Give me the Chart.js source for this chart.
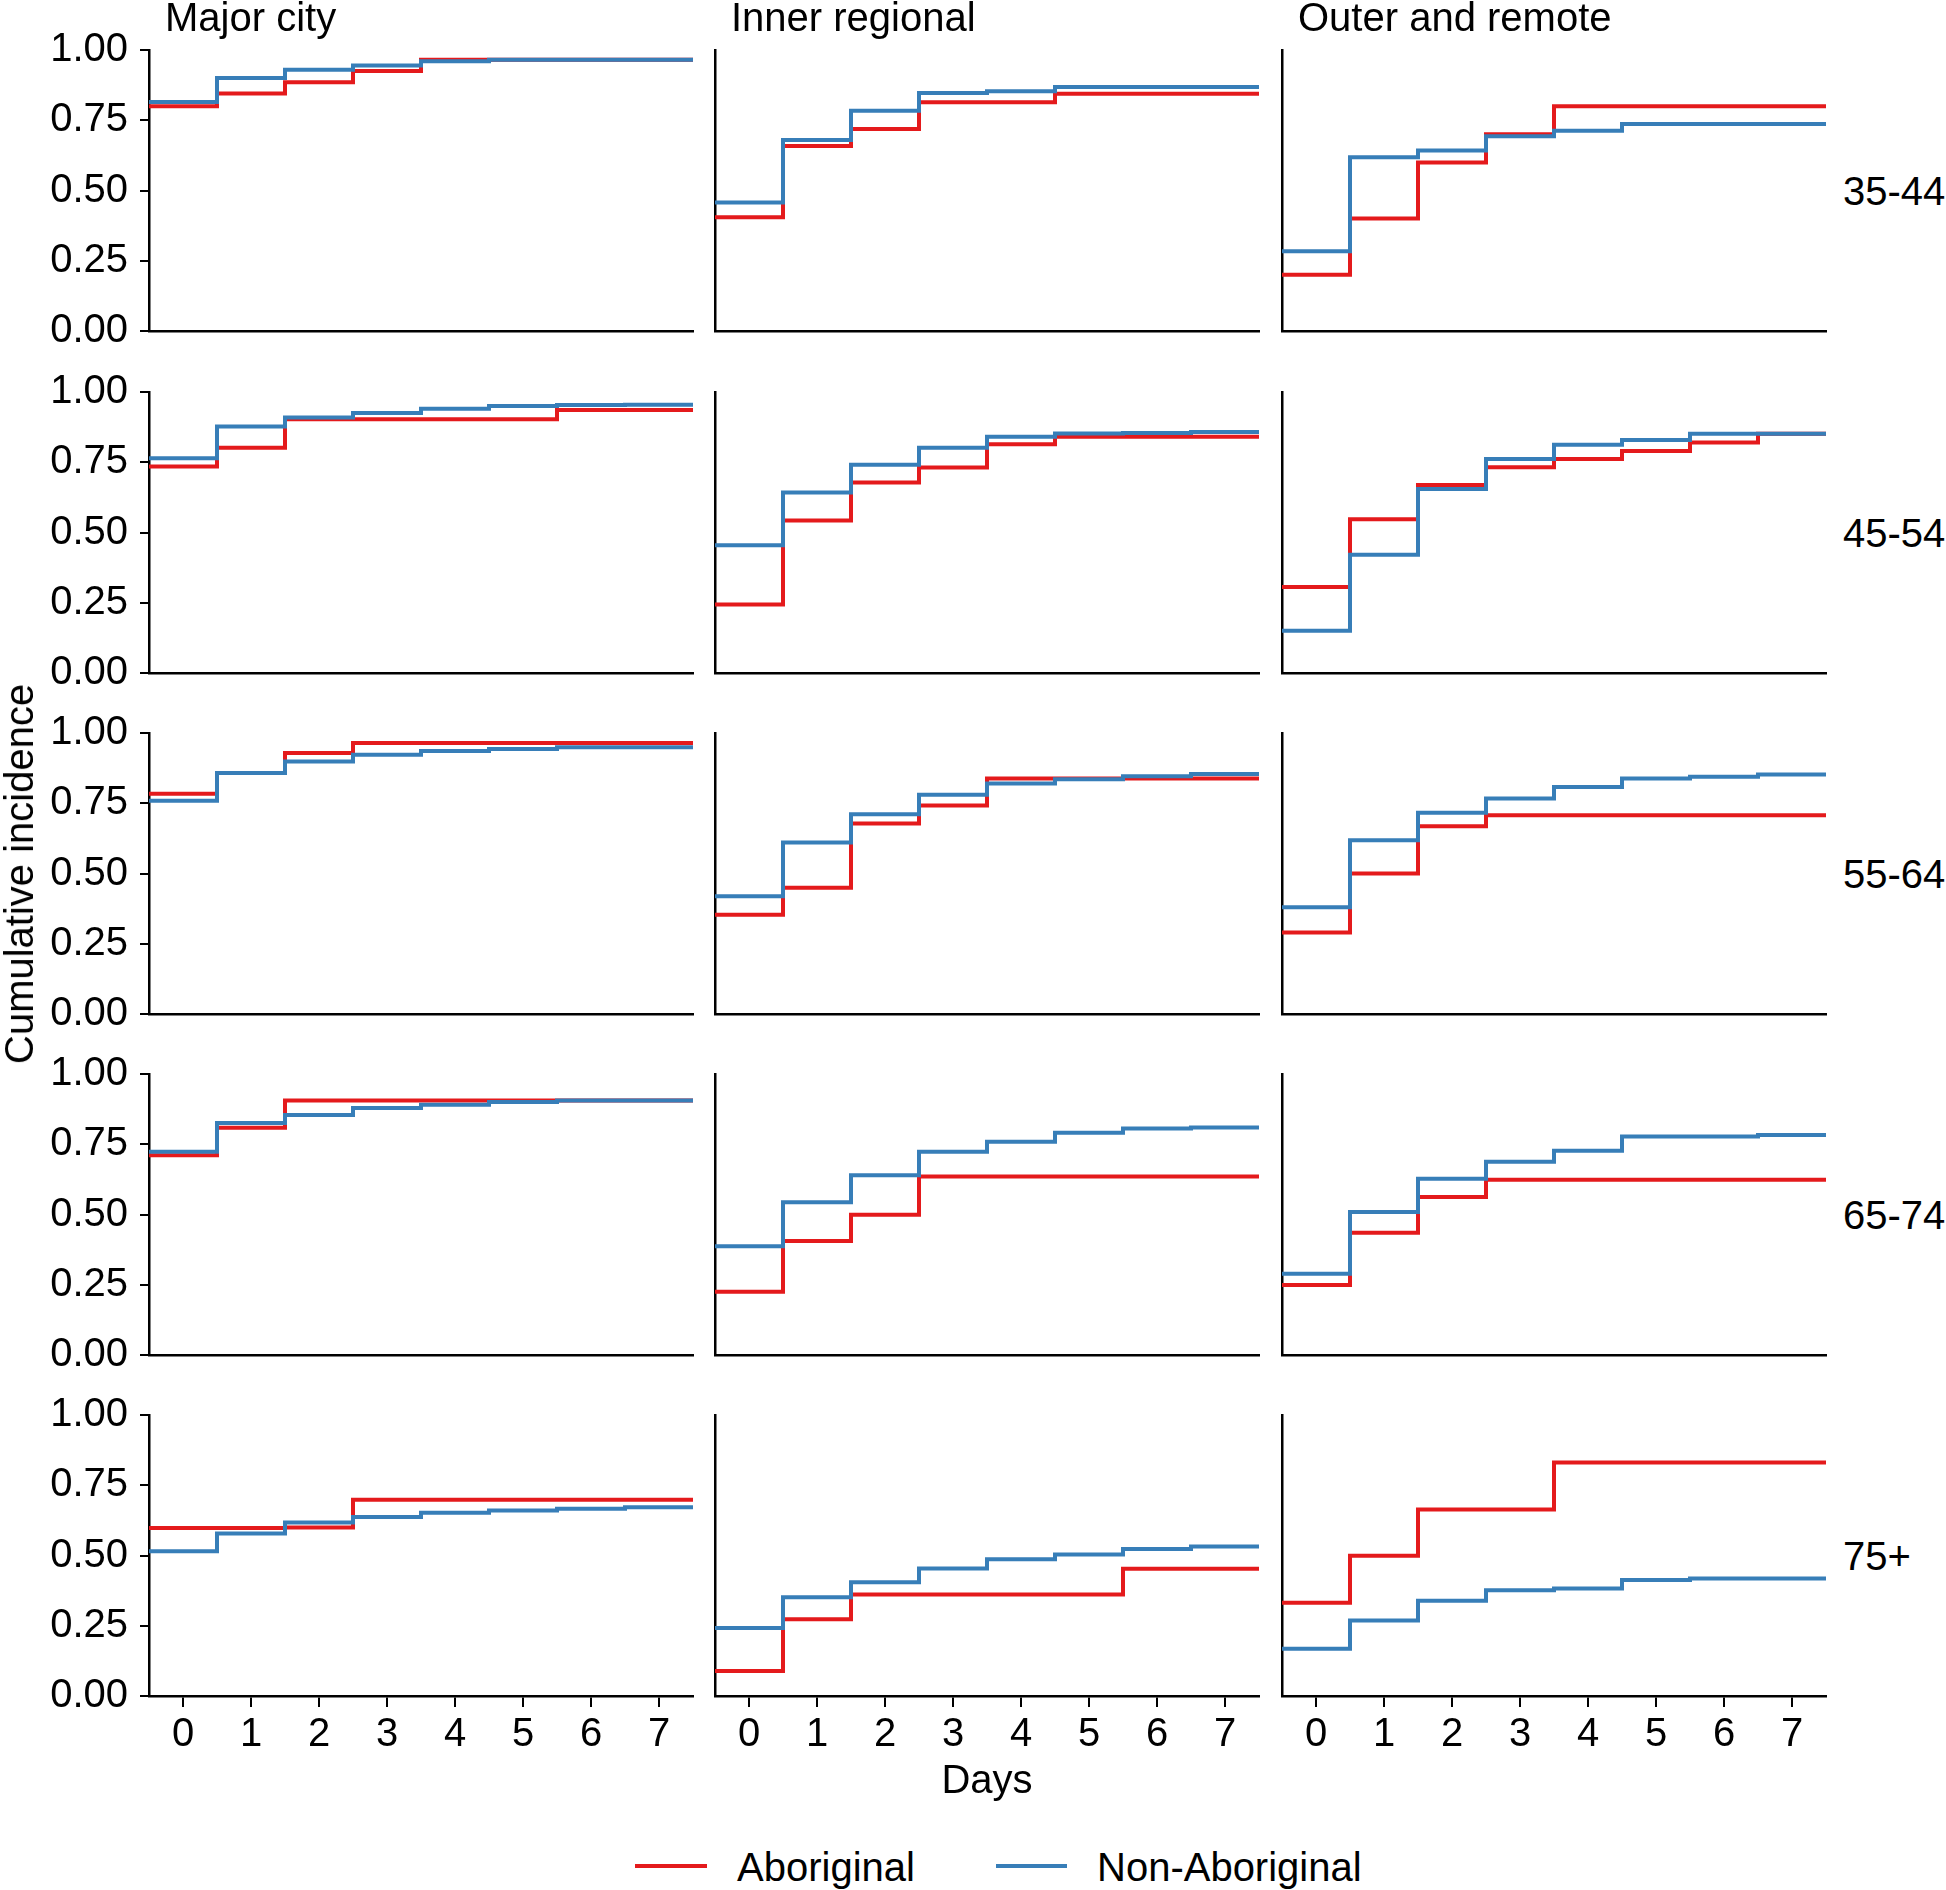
<!DOCTYPE html>
<html>
<head>
<meta charset="utf-8">
<script src="https://cdn.jsdelivr.net/npm/chart.js@4.4.1/dist/chart.umd.min.js"></script>
<style>
  html, body { margin: 0; padding: 0; background: #fff; }
  #page { position: relative; width: 1946px; height: 1890px; overflow: hidden;
          font-family: 'Liberation Sans', Arial, sans-serif; color: #000; }
  .panel { position: absolute; }
  .lbl { position: absolute; font-size: 40px; line-height: 40px; white-space: nowrap; }
  .key { position: absolute; height: 4px; }
</style>
</head>
<body>
<div id="page"></div>
<script>
/* datos */
const days = [0, 1, 2, 3, 4, 5, 6, 7];
const yTickValues = [0, 0.25, 0.5, 0.75, 1];
const yTickLabels = ['0.00', '0.25', '0.50', '0.75', '1.00'];
const areas = ['Major city', 'Inner regional', 'Outer and remote'];
const ageGroups = ['35-44', '45-54', '55-64', '65-74', '75+'];
const groups = ['Aboriginal', 'Non-Aboriginal'];
const colors = ['#E41A1C', '#377EB8'];

// 35-44
const abo3544Major = [0.800, 0.845, 0.885, 0.925, 0.965, 0.965, 0.965, 0.965];
const non3544Major = [0.815, 0.900, 0.930, 0.945, 0.960, 0.965, 0.965, 0.965];
const abo3544Inner = [0.405, 0.658, 0.719, 0.814, 0.814, 0.844, 0.844, 0.844];
const non3544Inner = [0.457, 0.680, 0.784, 0.847, 0.853, 0.868, 0.868, 0.868];
const abo3544Outer = [0.200, 0.400, 0.600, 0.700, 0.800, 0.800, 0.800, 0.800];
const non3544Outer = [0.284, 0.618, 0.642, 0.693, 0.713, 0.737, 0.737, 0.737];
// 45-54
const abo4554Major = [0.735, 0.802, 0.903, 0.903, 0.903, 0.903, 0.936, 0.936];
const non4554Major = [0.764, 0.877, 0.909, 0.925, 0.940, 0.950, 0.954, 0.955];
const abo4554Inner = [0.244, 0.543, 0.678, 0.731, 0.814, 0.841, 0.841, 0.841];
const non4554Inner = [0.455, 0.642, 0.741, 0.802, 0.841, 0.852, 0.854, 0.858];
const abo4554Outer = [0.306, 0.547, 0.669, 0.732, 0.762, 0.790, 0.820, 0.851];
const non4554Outer = [0.150, 0.421, 0.655, 0.762, 0.812, 0.829, 0.851, 0.851];
// 55-64
const abo5564Major = [0.784, 0.858, 0.929, 0.964, 0.964, 0.964, 0.964, 0.964];
const non5564Major = [0.759, 0.858, 0.899, 0.923, 0.936, 0.943, 0.949, 0.949];
const abo5564Inner = [0.353, 0.449, 0.678, 0.742, 0.838, 0.838, 0.838, 0.838];
const non5564Inner = [0.419, 0.610, 0.711, 0.780, 0.820, 0.835, 0.846, 0.854];
const abo5564Outer = [0.290, 0.500, 0.668, 0.707, 0.707, 0.707, 0.707, 0.707];
const non5564Outer = [0.380, 0.618, 0.716, 0.767, 0.808, 0.838, 0.844, 0.852];
// 65-74
const abo6574Major = [0.711, 0.809, 0.906, 0.906, 0.906, 0.906, 0.906, 0.906];
const non6574Major = [0.723, 0.826, 0.854, 0.879, 0.891, 0.900, 0.906, 0.906];
const abo6574Inner = [0.225, 0.406, 0.499, 0.635, 0.635, 0.635, 0.635, 0.635];
const non6574Inner = [0.387, 0.544, 0.640, 0.723, 0.759, 0.791, 0.806, 0.810];
const abo6574Outer = [0.249, 0.435, 0.562, 0.624, 0.624, 0.624, 0.624, 0.624];
const non6574Outer = [0.289, 0.509, 0.627, 0.688, 0.727, 0.778, 0.778, 0.783];
// 75+
const abo75Major = [0.598, 0.598, 0.600, 0.698, 0.698, 0.698, 0.698, 0.698];
const non75Major = [0.515, 0.578, 0.617, 0.637, 0.652, 0.660, 0.666, 0.672];
const abo75Inner = [0.089, 0.273, 0.361, 0.361, 0.361, 0.361, 0.453, 0.453];
const non75Inner = [0.242, 0.351, 0.405, 0.454, 0.487, 0.504, 0.523, 0.532];
const abo75Outer = [0.332, 0.499, 0.664, 0.664, 0.831, 0.831, 0.831, 0.831];
const non75Outer = [0.168, 0.269, 0.339, 0.376, 0.383, 0.413, 0.418, 0.418];

// fila = grupo de edad, columna = area, [aborigen, no aborigen]
const panels = [
    [[abo3544Major, non3544Major], [abo3544Inner, non3544Inner], [abo3544Outer, non3544Outer]],
    [[abo4554Major, non4554Major], [abo4554Inner, non4554Inner], [abo4554Outer, non4554Outer]],
    [[abo5564Major, non5564Major], [abo5564Inner, non5564Inner], [abo5564Outer, non5564Outer]],
    [[abo6574Major, non6574Major], [abo6574Inner, non6574Inner], [abo6574Outer, non6574Outer]],
    [[abo75Major, non75Major], [abo75Inner, non75Inner], [abo75Outer, non75Outer]]
];

/* layout */
const plotLeft = [149, 715, 1282];
const plotTop = [50, 392, 733, 1074, 1415];
const plotW = 544, plotH = 281;
const padTop = 28, padRight = 12;
const FONT = "'Liberation Sans', Arial, sans-serif";

Chart.defaults.font.family = FONT;
Chart.defaults.color = '#000';

const page = document.getElementById('page');

function addLabel(text, left, top, extra) {
    const d = document.createElement('div');
    d.className = 'lbl';
    d.textContent = text;
    d.style.left = left + 'px';
    d.style.top = top + 'px';
    if (extra) Object.assign(d.style, extra);
    page.appendChild(d);
    return d;
}

// escalon: se extiende de -0.5 a 7.5
function stepPoints(values) {
    const pts = days.map((d, i) => ({ x: d, y: values[i] }));
    pts.unshift({ x: -0.5, y: values[0] });
    pts.push({ x: 7.5, y: values[values.length - 1] });
    return pts;
}

// sin relleno extra alrededor de las escalas
function noPad(s) {
    s.paddingTop = 0;
    s.paddingBottom = 0;
    s.paddingLeft = 0;
    s.paddingRight = 0;
}

function makePanel(r, c) {
    const isLeft = c === 0;
    const isBottom = r === ageGroups.length - 1;
    const yW = isLeft ? 149 : 12;
    const xH = isBottom ? 80 : 28;
    const w = yW + plotW + padRight;
    const h = padTop + plotH + xH;

    const canvas = document.createElement('canvas');
    canvas.className = 'panel';
    canvas.width = w;
    canvas.height = h;
    canvas.style.width = w + 'px';
    canvas.style.height = h + 'px';
    canvas.style.left = (plotLeft[c] - yW) + 'px';
    canvas.style.top = (plotTop[r] - padTop) + 'px';
    page.appendChild(canvas);

    const [abo, non] = panels[r][c];

    new Chart(canvas.getContext('2d'), {
        type: 'line',
        data: {
            datasets: [
                { label: groups[0], data: stepPoints(abo), borderColor: colors[0], order: 1 },
                { label: groups[1], data: stepPoints(non), borderColor: colors[1], order: 0 }
            ].map(ds => Object.assign(ds, {
                stepped: 'middle', borderWidth: 4, pointRadius: 0, fill: false, tension: 0
            }))
        },
        options: {
            responsive: false,
            animation: false,
            devicePixelRatio: 1,
            events: [],
            layout: { autoPadding: false, padding: { top: padTop, right: padRight, left: 0, bottom: 0 } },
            plugins: { legend: { display: false }, tooltip: { enabled: false } },
            scales: {
                x: {
                    type: 'linear',
                    min: -0.5,
                    max: 7.5,
                    afterBuildTicks: s => { s.ticks = days.map(v => ({ value: v })); },
                    afterFit: s => { s.height = xH; noPad(s); },
                    grid: { display: true, drawOnChartArea: false, drawTicks: isBottom, tickLength: 11, color: '#000', lineWidth: 2 },
                    border: { display: true, color: '#000', width: 2.5 },
                    ticks: {
                        display: isBottom, color: '#000', padding: 4, maxRotation: 0, autoSkip: false,
                        font: { size: 40, family: FONT },
                        callback: v => String(v)
                    }
                },
                y: {
                    min: 0,
                    max: 1,
                    afterBuildTicks: s => { s.ticks = yTickValues.map(v => ({ value: v })); },
                    afterFit: s => { s.width = yW; noPad(s); },
                    grid: { display: true, drawOnChartArea: false, drawTicks: isLeft, tickLength: 9, color: '#000', lineWidth: 2 },
                    border: { display: true, color: '#000', width: 2.5 },
                    ticks: {
                        display: isLeft, color: '#000', padding: 12,
                        font: { size: 40, family: FONT },
                        callback: (v, i) => yTickLabels[i]
                    }
                }
            }
        }
    });
}

ageGroups.forEach((g, r) => areas.forEach((a, c) => makePanel(r, c)));

/* textos */
areas.forEach((a, c) => addLabel(a, plotLeft[c] + 16, -3));
ageGroups.forEach((g, r) => addLabel(g, 1843, plotTop[r] + plotH / 2 - 20));
addLabel('Days', plotLeft[1] + plotW / 2, 1759, { transform: 'translateX(-50%)' });
addLabel('Cumulative incidence', 19, 874, { transform: 'translate(-50%, -50%) rotate(-90deg)' });

// leyenda
const keyItems = [
    { x: 635, w: 72, tx: 737 },
    { x: 996, w: 71, tx: 1097 }
];
groups.forEach((g, i) => {
    const k = document.createElement('div');
    k.className = 'key';
    k.style.left = keyItems[i].x + 'px';
    k.style.width = keyItems[i].w + 'px';
    k.style.top = '1864px';
    k.style.background = colors[i];
    page.appendChild(k);
    addLabel(g, keyItems[i].tx, 1847);
});
</script>
</body>
</html>
